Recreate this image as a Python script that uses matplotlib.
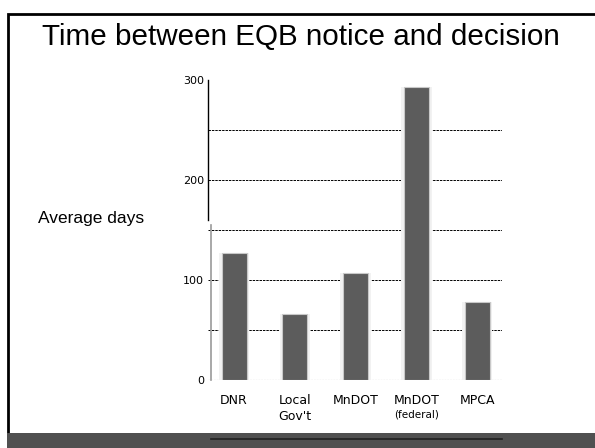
import matplotlib.pyplot as plt
from matplotlib.patches import Rectangle

# === DATA ===
agencies = ["DNR", "Local\nGov't", "MnDOT", "MnDOT", "MPCA"]
avg_days = [127, 66, 107, 293, 78]
y_ticks = [0, 100, 200, 300]
grid_levels = [50, 100, 150, 200, 250]

narrow = ["DejaVu Sans"]

fig = plt.figure(figsize=(5.95, 4.48), dpi=100)
fig.patch.set_facecolor("white")

# slide frame + bottom band
fig.add_artist(Rectangle((7.5 / 595, 0), 0.99, (448 - 14) / 448, transform=fig.transFigure,
                         fill=False, edgecolor="black", linewidth=2))
fig.add_artist(Rectangle((7 / 595, 0), 1, (448 - 433) / 448, transform=fig.transFigure,
                         facecolor="#505050", edgecolor="none"))
fig.add_artist(plt.Line2D([211 / 595, 502 / 595], [(448 - 439) / 448] * 2,
                          transform=fig.transFigure, color="#202020", linewidth=1.2))

fig.text(301 / 595, (448 - 37) / 448, "Time between EQB notice and decision",
         ha="center", va="center", fontsize=21.3, family="Liberation Sans")
fig.text(38 / 595, (448 - 218) / 448, "Average days", ha="left", va="center",
         fontsize=12.5, family="Liberation Sans")

ax = fig.add_axes([208 / 595, 68 / 448, 294 / 595, 300 / 448])
x = range(len(avg_days))

for lvl in grid_levels:
    ax.axhline(lvl, color="black", linestyle=(0, (2.5, 1)), linewidth=0.7, zorder=1)
ax.axhline(0, color="#888888", linestyle=(0, (1.5, 1)), linewidth=0.8, zorder=1)

# glow behind bars, then bars
ax.bar(x, avg_days, width=0.5, color="#f2f2f2", zorder=2)
ax.bar(x, avg_days, width=0.41, color="#5c5c5c", edgecolor="#c8c8c8", linewidth=0.8, zorder=3)

ax.set_xlim(-0.43, 4.41)
ax.set_ylim(0, 300)
ax.set_yticks(y_ticks)
ax.set_yticklabels([str(v) for v in y_ticks], fontsize=8, family=narrow)
ax.set_xticks(list(x))
ax.set_xticklabels(agencies, fontsize=9, family=narrow, va="top", linespacing=1.35)
ax.tick_params(axis="x", length=0, pad=10)
ax.tick_params(axis="y", length=0, pad=3)
ax.text(3, -0.097, "(federal)", transform=ax.get_xaxis_transform(), ha="center",
        va="top", fontsize=7.5, family=narrow)

for s in ["top", "right", "bottom"]:
    ax.spines[s].set_visible(False)
ax.spines["left"].set_bounds(160, 300)
ax.spines["left"].set_linewidth(1.0)
ax.plot([0.01, 0.01], [0, 155], transform=ax.get_yaxis_transform(), color="#999999",
        linewidth=1.2, clip_on=False, zorder=4)

plt.savefig("out.png", dpi=100)
